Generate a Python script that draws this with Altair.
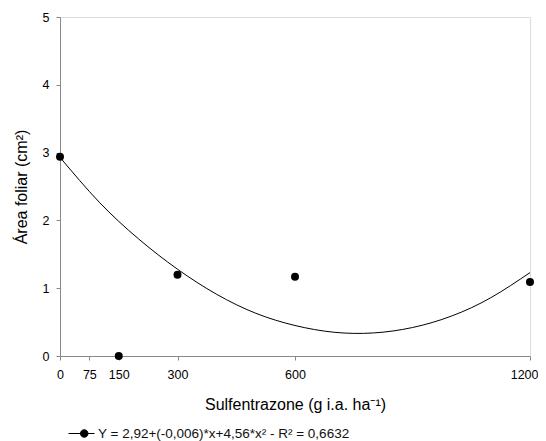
import altair as alt
import pandas as pd

# Observed means
dose = [0, 150, 300, 600, 1200]
area = [2.94, 0.0, 1.20, 1.17, 1.09]

# Fitted curve
curve_x = [0, 100, 200, 300, 400, 500, 600, 700, 800, 900, 1000, 1100, 1200]
curve_y = [2.93, 2.27, 1.73, 1.28, 0.91, 0.63, 0.45, 0.35, 0.34, 0.42, 0.59, 0.86, 1.23]

x_ticks = [0, 75, 150, 300, 600, 1200]
y_ticks = [0, 1, 2, 3, 4, 5]
legend_label = "Y = 2,92+(-0,006)*x+4,56*x² - R² = 0,6632"

pts = pd.DataFrame({"dose": dose, "area": area, "serie": [legend_label] * len(dose)})
crv = pd.DataFrame({"dose": curve_x, "area": curve_y})

FONT = "Liberation Sans"
AX_COL = "#7a7a7a"

x_enc = alt.X(
    "dose:Q",
    scale=alt.Scale(domain=[0, 1200], nice=False, zero=False),
    axis=alt.Axis(
        values=x_ticks, title="Sulfentrazone (g i.a. ha⁻¹)", format="d",
        labelFontSize=12.5, titleFontSize=16, titleFontWeight="normal",
        tickSize=4, labelPadding=8, titlePadding=16, grid=False,
        labelFlush=False, labelOverlap=False,
        labelAlign={"condition": {"test": "datum.value == 1200", "value": "right"}, "value": "center"},
        labelOffset={"condition": {"test": "datum.value == 1200", "value": 8}, "value": 0},
    ),
)
y_enc = alt.Y(
    "area:Q",
    scale=alt.Scale(domain=[0, 5], nice=False),
    axis=alt.Axis(
        values=y_ticks, title="Área foliar (cm²)", format="d",
        labelFontSize=12.5, titleFontSize=16, titleFontWeight="normal",
        tickSize=4, labelPadding=7, titlePadding=13, grid=False,
    ),
)

sym_path = "M-1,0H1M-0.08,0A0.29,0.29 0 1,0 0.5,0A0.29,0.29 0 1,0 -0.08,0Z"

curve = alt.Chart(crv).mark_line(color="black", strokeWidth=1, interpolate="natural").encode(
    x=x_enc, y=y_enc
)
points = alt.Chart(pts).mark_point(filled=True, size=64, opacity=1).encode(
    x="dose:Q",
    y="area:Q",
    color=alt.Color(
        "serie:N",
        scale=alt.Scale(range=["black"]),
        legend=alt.Legend(
            title=None, orient="none", legendX=8, legendY=403,
            symbolType=sym_path, symbolSize=676,
            symbolFillColor="black", symbolStrokeColor="black", symbolStrokeWidth=1,
            symbolOpacity=1,
            labelFontSize=13.5, labelOffset=3, labelLimit=500, padding=0,
            labelColor="#111", labelFont=FONT,
        ),
    ),
)

chart = (
    alt.layer(curve, points)
    .properties(
        width=470, height=339,
        autosize=alt.AutoSizeParams(type="none"),
        padding={"left": 52, "top": 9, "right": 8, "bottom": 90},
    )
    .configure_view(stroke=None)
    .configure_axis(
        labelFont=FONT, titleFont=FONT, labelColor="#222", titleColor="#111",
        domainColor=AX_COL, tickColor=AX_COL, domainWidth=1.2, tickWidth=1.2,
    )
    .configure(background="white")
)

chart.save("out.html", embed_options={"renderer": "svg", "actions": False})
